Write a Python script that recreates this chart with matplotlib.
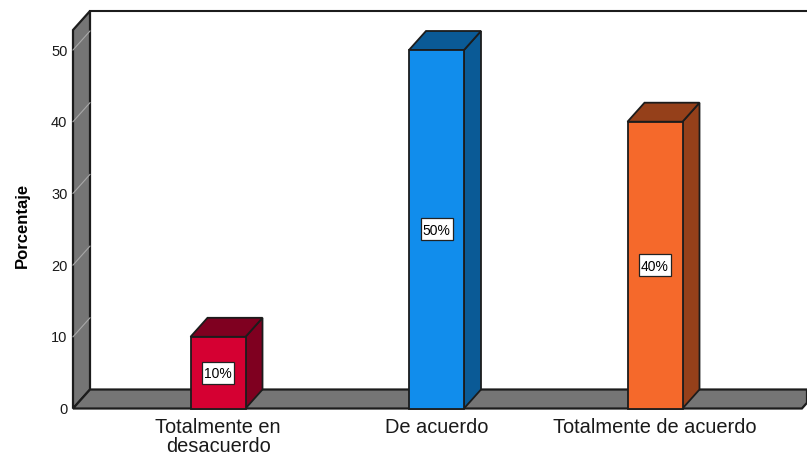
import matplotlib
matplotlib.use("Agg")
import matplotlib.pyplot as plt
from matplotlib.patches import Polygon, Rectangle

plt.rcParams['font.family'] = ['Liberation Sans', 'DejaVu Sans']

categories = ["Totalmente en\ndesacuerdo", "De acuerdo", "Totalmente de acuerdo"]
values = [10, 50, 40]
labels = ["10%", "50%", "40%"]
front_colors = ["#D50032", "#118DEC", "#F5692B"]
side_colors = ["#7F0020", "#0A5A96", "#95401A"]
y_ticks = [0, 10, 20, 30, 40, 50]

W, H = 807, 455
fig = plt.figure(figsize=(W / 100, H / 100), dpi=100)
L, R, B, T = 73.0, 807.0, 408.5, 30.0
ax = fig.add_axes([L / W, 1 - B / H, (R - L) / W, (B - T) / H])

px_per_cat = 218.5
px_per_unit = 7.17
x0_px = 218.0
ax.set_xlim((L - x0_px) / px_per_cat, (R - x0_px) / px_per_cat)
ax.set_ylim(0, (B - T) / px_per_unit)

dx = 17.0 / px_per_cat
dy = 19.0 / px_per_unit
bw = 55.0 / px_per_cat
edge = "#1c1c1c"
gray = "#757575"
xl, xr = ax.get_xlim()
yt = ax.get_ylim()[1]

for s in ax.spines.values():
    s.set_visible(False)
ax.patch.set_visible(False)

# left wall and floor
ax.add_patch(Polygon([(xl, 0), (xl + dx, dy), (xl + dx, yt + dy), (xl, yt)], closed=True,
                     fc=gray, ec=edge, lw=1.6, clip_on=False, zorder=1))
ax.add_patch(Polygon([(xl, 0), (xr - dx * 0.3, 0), (xr, dy * 0.3), (xr, dy), (xl + dx, dy)], closed=True,
                     fc=gray, ec=edge, lw=1.6, clip_on=False, zorder=1))
# top edge of the back wall
ax.plot([xl + dx, xr], [yt + dy, yt + dy], color=edge, lw=1.5, clip_on=False, zorder=1)
# wall gridlines
for t in y_ticks[1:]:
    ax.plot([xl, xl + dx], [t, t + dy], color="#a8a8a8", lw=0.8, clip_on=False, zorder=2)

# bars
box_w = 32.0 / px_per_cat
box_h = 22.0 / px_per_unit
for i, v in enumerate(values):
    x1, x2 = i - bw / 2, i + bw / 2
    ax.add_patch(Polygon([(x2, 0), (x2 + dx, dy), (x2 + dx, v + dy), (x2, v)], closed=True,
                         fc=side_colors[i], ec=edge, lw=1.3, clip_on=False, zorder=3))
    ax.add_patch(Polygon([(x1, v), (x1 + dx, v + dy), (x2 + dx, v + dy), (x2, v)], closed=True,
                         fc=side_colors[i], ec=edge, lw=1.3, clip_on=False, zorder=3))
    ax.add_patch(Rectangle((x1, 0), bw, v, fc=front_colors[i], ec=edge, lw=1.3, clip_on=False, zorder=4))
    ax.add_patch(Rectangle((i - box_w / 2, v / 2 - box_h / 2), box_w, box_h, fc="white", ec="#222222",
                           lw=0.9, zorder=5))
    ax.text(i, v / 2, labels[i], ha="center", va="center_baseline", fontsize=10, color="black", zorder=6)

ax.set_yticks(y_ticks)
ax.set_xticks(range(len(categories)))
ax.set_xticklabels(categories, fontsize=14.4, color="#1a1a1a", linespacing=1.0)
ax.tick_params(axis="x", length=0, pad=7)
ax.tick_params(axis="y", length=0, pad=4, labelsize=10.5, labelcolor="#1a1a1a")
fig.text(22 / W, 1 - 225 / H, "Porcentaje", rotation=90, ha="center", va="center",
         fontsize=12, fontweight="bold", color="black")

fig.savefig("out.png", dpi=100)
